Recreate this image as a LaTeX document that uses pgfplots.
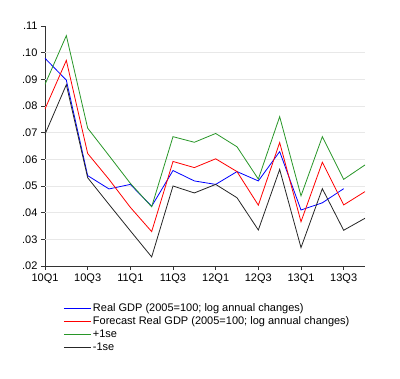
\documentclass[border=0pt]{standalone}
\usepackage{fontspec}
\setmainfont{Liberation Sans}
\usepackage{pgfplots}
\pgfplotsset{compat=1.18}
\usepackage{pgfplotstable}
\definecolor{cblue}{RGB}{0,0,255}
\definecolor{cred}{RGB}{255,0,0}
\definecolor{cgreen}{RGB}{40,150,40}
\definecolor{gridc}{RGB}{232,232,232}
\pgfplotstableread{
i blue red green black
0 0.0979 0.0789 0.0881 0.0694
1 0.0897 0.0971 0.1064 0.0880
2 0.0539 0.0622 0.0717 0.0531
3 0.0489 0.0525 0.0614 0.0431
4 0.0506 0.0420 0.0510 0.0332
5 0.0424 0.0329 0.0422 0.0234
6 0.0558 0.0592 0.0685 0.0500
7 0.0519 0.0569 0.0664 0.0474
8 0.0506 0.0602 0.0697 0.0506
9 0.0554 0.0554 0.0647 0.0456
10 0.0519 0.0428 0.0526 0.0335
11 0.0629 0.0663 0.0760 0.0562
12 0.0410 0.0366 0.0463 0.0269
13 0.0437 0.0589 0.0685 0.0490
14 0.0490 0.0429 0.0525 0.0334
15 nan 0.0479 0.0579 0.0379
}\data
\begin{document}
\begin{tikzpicture}
\path[use as bounding box] (-45bp,-113bp) rectangle (355bp,266bp);
\begin{axis}[
  at={(0,0)}, anchor=south west,
  scale only axis, width=320bp, height=240bp,
  xmin=0, xmax=15, ymin=0.02, ymax=0.11,
  axis x line*=bottom, axis y line*=left,
  axis line style={line width=0.9bp, black!80},
  tick style={line width=0.9bp, black!80},
  tick align=outside, major tick length=4bp,
  xtick={0,2,...,14},
  xticklabels={10Q1,10Q3,11Q1,11Q3,12Q1,12Q3,13Q1,13Q3},
  ytick={0.02,0.03,0.04,0.05,0.06,0.07,0.08,0.09,0.10,0.11},
  yticklabels={.02,.03,.04,.05,.06,.07,.08,.09,.10,.11},
  extra y ticks={0.03,0.04,0.05,0.06,0.07,0.08,0.09,0.10},
  extra y tick labels={},
  extra y tick style={grid=major, major tick length=0pt, major grid style={gridc, line width=1bp}},
  ticklabel style={font=\fontsize{11bp}{13bp}\selectfont},
  x tick label style={yshift=-0.5bp},
  unbounded coords=jump,
  legend cell align=left,
  legend image code/.code={\draw[#1, line width=1bp] plot coordinates {(0bp,0bp) (13.5bp,0bp) (27bp,0bp)};},
  legend style={at={(0.057,-0.150)}, anchor=north west, draw=none, fill=none,
    inner sep=0pt, row sep=0pt,
    font=\fontsize{11bp}{13bp}\selectfont,
    nodes={inner xsep=1.5bp, inner ysep=1bp, text height=8bp, text depth=3bp}},
]
\addplot[cblue, line width=0.8bp] table[x=i, y=blue] {\data};
\addlegendentry{Real GDP (2005=100; log annual changes)}
\addplot[cred, line width=0.8bp] table[x=i, y=red] {\data};
\addlegendentry{Forecast Real GDP (2005=100; log annual changes)}
\addplot[cgreen, line width=0.8bp] table[x=i, y=green] {\data};
\addlegendentry{+1se}
\addplot[black!85, line width=0.8bp] table[x=i, y=black] {\data};
\addlegendentry{-1se}
\end{axis}
\end{tikzpicture}
\end{document}
